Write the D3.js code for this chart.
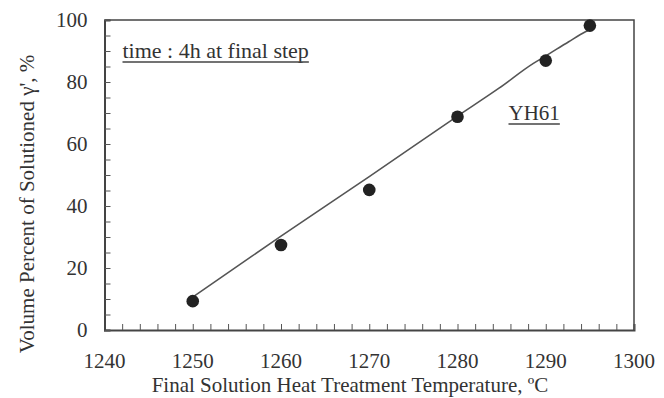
<!DOCTYPE html>
<html>
<head>
<meta charset="utf-8">
<script src="https://cdn.jsdelivr.net/npm/d3@7"></script>
<style>
  body { margin: 0; background: #fff; }
  text { font-family: "Liberation Serif", "Times New Roman", serif; fill: #333; }
</style>
</head>
<body>
<svg id="chart" width="664" height="398"></svg>
<script>
// measured points (temperature, °C / volume percent)
const temps = [1250, 1260, 1270, 1280, 1290, 1295];
const solutioned = [9.3, 27.4, 45.2, 68.8, 86.9, 98.2];

// hand-drawn guide line
const lineTemps = [1250.2, 1260, 1270, 1280, 1284.7, 1288.6, 1290, 1292.6, 1294.5, 1295.5];
const lineValues = [11, 30.3, 49.5, 69, 78, 86, 88.4, 93, 96.2, 97.5];

const xTicks = [1240, 1250, 1260, 1270, 1280, 1290, 1300];
const yTicks = [0, 20, 40, 60, 80, 100];

const svg = d3.select("#chart"),
    margin = { top: 20, right: 30, bottom: 68, left: 104.5 },
    width = +svg.attr("width") - margin.left - margin.right,
    height = +svg.attr("height") - margin.top - margin.bottom;

const g = svg.append("g")
    .attr("transform", `translate(${margin.left},${margin.top})`);

const x = d3.scaleLinear().domain([1240, 1300]).range([0, width]);
const y = d3.scaleLinear().domain([0, 100]).range([height, 0]);

// top and right frame
g.append("path")
    .attr("d", `M0,0H${width}V${height}`)
    .attr("fill", "none")
    .attr("stroke", "#444")
    .attr("stroke-width", 1.5);

// bottom axis: minor ticks every 2 deg, pointing inward
const xAxis = g.append("g")
    .attr("transform", `translate(0,${height})`)
    .call(d3.axisBottom(x).tickValues(d3.range(1240, 1301, 2)).tickSize(-6).tickFormat(""));
xAxis.select(".domain").attr("stroke", "#444").attr("stroke-width", 2);
xAxis.selectAll(".tick line").attr("stroke", "#555");

g.append("g").selectAll("text")
    .data(xTicks)
    .join("text")
    .attr("x", d => x(d))
    .attr("y", height + 38)
    .attr("text-anchor", "middle")
    .style("font-size", "21px")
    .text(d => d);

// left axis: ticks every 5 %
const yAxis = g.append("g")
    .call(d3.axisLeft(y).tickValues(d3.range(0, 101, 5)).tickSize(-6).tickFormat(""));
yAxis.select(".domain").attr("stroke", "#444").attr("stroke-width", 2);
yAxis.selectAll(".tick line").attr("stroke", "#555");

g.append("g").selectAll("text")
    .data(yTicks)
    .join("text")
    .attr("x", -17)
    .attr("y", d => y(d) + 7)
    .attr("text-anchor", "end")
    .style("font-size", "21px")
    .text(d => d);

// guide line
const linePts = lineTemps.map((t, i) => [t, lineValues[i]]);
g.append("path")
    .datum(linePts)
    .attr("fill", "none")
    .attr("stroke", "#555")
    .attr("stroke-width", 1.6)
    .attr("d", d3.line().x(d => x(d[0])).y(d => y(d[1])).curve(d3.curveMonotoneX));

// data points
g.selectAll("circle")
    .data(temps.map((t, i) => [t, solutioned[i]]))
    .join("circle")
    .attr("cx", d => x(d[0]))
    .attr("cy", d => y(d[1]))
    .attr("r", 6.3)
    .attr("fill", "#222");

// annotations
const note1 = g.append("text")
    .attr("x", 18)
    .attr("y", 38)
    .style("font-size", "22px")
    .text("time : 4h at final step");
const note2 = g.append("text")
    .attr("x", 404)
    .attr("y", 100)
    .style("font-size", "21px")
    .text("YH61");
[note1, note2].forEach(t => {
    const b = t.node().getBBox();
    g.append("line")
        .attr("x1", b.x).attr("x2", b.x + b.width)
        .attr("y1", +t.attr("y") + 4).attr("y2", +t.attr("y") + 4)
        .attr("stroke", "#444")
        .attr("stroke-width", 1.3);
});

// axis titles
svg.append("text")
    .attr("x", 350)
    .attr("y", 392)
    .attr("text-anchor", "middle")
    .style("font-size", "21px")
    .text("Final Solution Heat Treatment Temperature, \u00baC");

svg.append("text")
    .attr("transform", "translate(34,204) rotate(-90)")
    .attr("text-anchor", "middle")
    .style("font-size", "21px")
    .text("Volume Percent of Solutioned \u03b3', %");
</script>
</body>
</html>
